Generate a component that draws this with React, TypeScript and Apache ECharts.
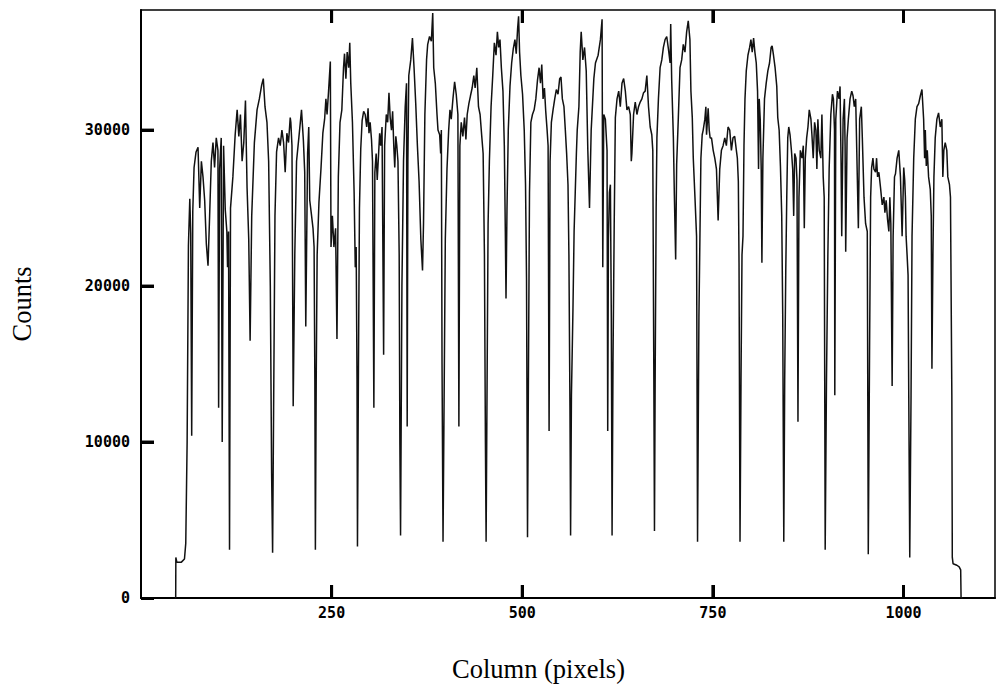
import React, { useEffect, useRef } from 'react';
import * as echarts from 'echarts';

// Axis ranges and tick values
const xMin = 0;
const xMax = 1120;
const yMin = 0;
const yMax = 37700;
const xTickValues = [250, 500, 750, 1000];
const yTickValues = [0, 10000, 20000, 30000];

// Spectrum trace [column, counts], in segments
const segA: [number, number][] = [
  [44, 0], [45.5, 0], [45.7, 2600], [47, 2300], [53, 2300], [57, 2500], [58.7, 3500],
  [60.5, 10000], [62.2, 22600], [64, 25600], [65.2, 23400], [66.5, 10400], [67.9, 24800],
  [69.6, 27600], [72.2, 28600], [74.8, 28900], [77, 25000], [79.2, 28000], [81.3, 27000],
  [83.5, 25500], [85.7, 22700], [87.9, 21300], [90, 24500], [92.2, 28000], [94.4, 29200],
  [96.5, 27600], [98.7, 29500], [100.9, 28700], [101.8, 12200], [103.1, 27500], [105.2, 29500],
  [106.5, 10000], [108.3, 29000], [110.5, 24900], [112.6, 23500], [113.5, 21200], [114.8, 23500],
  [116.1, 3100], [117.4, 25000],
];

const segB: [number, number][] = [
  [120.5, 27000], [123.5, 29700], [126.1, 31300], [128.3, 29600], [130.4, 31000], [132.6, 28000],
  [134.8, 29200], [137, 31900], [139.1, 26300], [141.3, 23000], [143.1, 16500], [145.2, 24500],
  [148.7, 29200], [152.2, 31300], [155.2, 32000], [158.3, 32900], [160.4, 33300], [162.6, 31500],
  [165.2, 30500], [167.4, 28000], [169.6, 20000], [171.3, 8000], [172.6, 2900], [173.9, 12000],
  [175.7, 24500], [177.8, 28600], [180.4, 29500], [182.6, 29000], [184.8, 30000], [187, 29200],
  [189.1, 27300], [191.3, 29800], [193.5, 29200], [195.7, 30800],
];

const segC: [number, number][] = [
  [196.5, 30500], [198, 29000], [199.6, 12300], [201.7, 22000], [204, 28000], [207, 29500],
  [210.5, 31300], [213, 29300], [214.7, 27300], [216.1, 17400], [218.5, 28500], [220, 30200],
  [221.3, 25500], [223.5, 24600], [225.6, 23700], [227, 22500], [228, 14000], [228.7, 3100],
  [229.8, 14000], [231, 22000], [233.4, 25400], [236, 27500], [238.5, 29800], [240.8, 30700],
  [242.5, 32000], [244, 31000], [246, 32500], [248.3, 34400], [249.2, 22500], [251, 24500],
  [253, 22500], [255.2, 23700], [257, 16600], [258.8, 27000], [261, 30500], [263.4, 31300],
  [265.6, 34000], [266.9, 34900], [268.7, 33300], [270.4, 35000], [272.4, 34000], [273.8, 35600],
  [275.1, 33000], [277.3, 30500], [279.5, 26000], [281, 21200], [282.2, 22500], [283.3, 14000],
  [283.9, 3300],
];

const segD: [number, number][] = [
  [285.2, 15000], [286.5, 25000], [288.2, 28800], [290, 30600], [292, 31200], [294, 31000],
  [296, 30200], [297.8, 31400], [299, 29800], [300.5, 30500], [302.3, 29400], [303.6, 28000],
  [305.4, 12200], [306.7, 27300], [308.4, 28500], [309.8, 26800], [311.1, 28000], [313, 29800],
  [314.4, 29000], [316.1, 30200], [318.2, 15600], [319.5, 29000], [321.7, 31000], [323.5, 30500],
  [325.2, 32400], [326.8, 30800], [328.5, 30000], [330, 31200], [331.5, 29000], [332.8, 27600],
  [334.2, 29600], [335.5, 29000], [337, 28000], [338.6, 22000], [339.5, 10000], [340.4, 4000],
  [341.3, 12000], [342.2, 20000], [344.3, 28000], [346.5, 31500], [348.2, 33000], [349.1, 11000],
  [350, 28000], [351.2, 33500], [353.8, 34500], [356, 35900], [358.1, 34000], [360.3, 31700],
  [362.5, 29000], [364.7, 26700], [367, 23000], [369.2, 21000], [370.5, 24000], [372.3, 31000],
  [374.5, 34500], [376, 35500], [378.4, 36000], [380.8, 35700], [382.6, 37500], [383.9, 34000],
  [386, 33000], [388.2, 31000], [389.5, 30000], [391.7, 29700], [393, 28500], [393.9, 30000],
  [394.8, 15000], [396.1, 3600],
];

const segE: [number, number][] = [
  [397.4, 12000], [399.1, 23000], [401.3, 27500], [403.5, 30000], [405.2, 31300], [406.9, 30700],
  [409.1, 32000], [411.3, 33100], [413.4, 32300], [415.6, 31000], [416.9, 11000], [418.2, 29000],
  [420, 30500], [422.1, 29600], [424.3, 30800], [426.1, 29400], [427.8, 31000], [430, 31700],
  [432.1, 32200], [434.3, 32700], [436.5, 33500], [438.2, 32700], [440.4, 34000], [442.6, 31500],
  [444.7, 31000], [446.9, 29600], [448.7, 28500], [450.4, 22000], [451.7, 10000], [452.6, 3600],
  [453.9, 14000], [455.2, 24000], [456.9, 28000], [459.1, 31500], [461.3, 33500], [463.4, 35600],
  [465.6, 34800], [467.4, 36300], [469.1, 35300], [470.8, 35800], [472.6, 34000], [474.7, 32500],
  [476.5, 29000], [477.8, 23500], [478.7, 19200], [480, 25000], [481.7, 30000], [483.9, 32800],
  [486.1, 34300], [488.2, 35200], [490.4, 35800], [492.1, 34900], [493.9, 36500], [495.2, 37300],
  [496.5, 35000], [498.2, 33500], [500.4, 32300], [502.6, 30000], [504.3, 26500], [505.6, 20500],
  [506.9, 3900], [508.2, 15000], [509.5, 26000], [511.3, 30500], [513.4, 31000], [515.6, 31300],
  [517.8, 32000], [520, 33200], [522.1, 34000], [523.9, 33000], [525.6, 34200], [527.3, 32000],
  [529.1, 32700], [530.8, 31200], [532.6, 30000], [533.9, 29000], [535.2, 10700], [536.5, 28000],
  [538.2, 30500], [540.4, 31300], [542.6, 32000], [544.7, 32600], [546.9, 32300], [549.1, 33300],
  [550.8, 33400], [552.6, 32000], [554.7, 31500], [556.5, 30000], [558.2, 28500], [560, 26500],
  [561.2, 22000], [562.6, 12000], [563.4, 4000],
];

const segF: [number, number][] = [
  [564.5, 13000], [565.6, 16000], [566.5, 18500], [568, 23500], [569.5, 26000], [571, 28500],
  [572.1, 30000], [574.3, 31500], [576, 35000], [577.3, 36300], [579.5, 34500], [581.7, 35300],
  [583.9, 33800], [586, 28700], [588.2, 25000], [590.4, 30000], [593.9, 33300], [596, 34300],
  [599.5, 34800], [602.5, 35800], [604.7, 37100], [605.6, 21200], [606.9, 31000], [609, 30700],
  [611.2, 28700], [612.1, 10700], [613, 23000], [614.3, 26000], [615.6, 26500], [616.8, 18000],
  [617.8, 4000], [619, 15000], [620.6, 24000], [622.1, 30800], [624.3, 32000], [626.5, 32500],
  [628.6, 31500], [630.8, 33000], [633, 33300], [635.2, 32500], [637.3, 31300], [639.5, 31500],
  [641.7, 31000], [643, 28000], [643.8, 28500], [646, 31000], [648.2, 31800], [650.4, 31000],
  [652.5, 31500], [654.7, 31800], [656.9, 32000], [659.1, 32400], [661.2, 32500], [663.4, 33500],
  [665.6, 31500], [667.8, 30200], [669.9, 29700], [671.2, 28700], [672.5, 15000], [673.4, 4300],
  [674.3, 14000], [675.6, 25000], [676.6, 29500], [678.6, 32000], [680.8, 34000], [683, 34500],
  [685.1, 35300], [687.3, 35800], [689.5, 36000], [691.7, 35200], [693.9, 34300], [694.7, 36800],
  [696, 33200], [698.2, 29500], [699.5, 25800], [701.2, 21700], [702.5, 27800], [704.7, 30800],
  [706.9, 34000], [709.1, 34500], [711.2, 35500], [713.4, 35000], [715.6, 36300], [717.7, 37000],
  [719.9, 35800], [721.2, 32500], [723, 30800], [724.3, 28200], [726.5, 25700], [728.6, 23200],
  [729.9, 3600], [731.7, 18000], [734.3, 28200], [736, 29700], [737.3, 30000], [739.5, 30700],
  [740.8, 31500], [741.7, 29700], [743, 30700], [743.8, 31400], [745.2, 30000], [746.4, 29500],
  [748.2, 29500], [750.4, 28700], [752.5, 28200], [754.7, 27500], [756.9, 24200], [759, 27500],
];

const segG: [number, number][] = [
  [761.2, 28700], [763.4, 29000], [765.6, 29500], [767.7, 29000], [769.9, 30200], [772.1, 30000],
  [774.3, 28700], [776.4, 29500], [778.6, 29600], [780.8, 28700], [782.1, 28200], [783.4, 26700],
  [784.3, 21500], [785.6, 3600], [786.9, 14000], [788.2, 22000], [789.5, 23200], [790.8, 29000],
  [792.1, 32000], [793.8, 33800], [796, 34800], [798.2, 35300], [799.9, 35800], [801.6, 35000],
  [803.4, 35900], [805.1, 35000], [806.9, 34300], [808.6, 32500], [809.9, 27500], [810.8, 32000],
  [812.1, 30700], [813.4, 27500], [814.3, 21500], [815.6, 28200], [817.7, 32000], [819.9, 33000],
  [822.1, 33800], [824.3, 34300], [826.4, 35300], [827.7, 35400], [829.5, 34800], [831.6, 34000],
  [833.8, 32800], [835.1, 30800], [836.9, 30000], [838.6, 27700], [840.3, 24500], [841.6, 18200],
  [843, 3600], [844.2, 14000], [845.6, 21000], [846.9, 25700], [848.2, 29500], [849.5, 30200],
  [851.2, 29700], [853, 28700], [854.7, 27500], [856, 24500], [857.3, 28500], [859, 28200],
  [860.3, 26800], [861.6, 11300], [862.9, 25700], [864.7, 28700], [866.9, 28200], [868.6, 29000],
  [869.9, 23700], [871.2, 28200], [873, 29500], [874.7, 30200], [876.4, 31300], [878.6, 30700],
  [879.9, 29700], [881.6, 28200], [883.4, 30500], [885.1, 30000], [886.4, 27500], [887.7, 30700],
  [889.5, 28700], [891.6, 28200], [893, 31000], [894.7, 27000], [896, 25700], [897.3, 3100],
  [899, 14000], [900.8, 22000], [902.5, 27500], [904.7, 31000], [906.8, 32300], [908.1, 32000],
  [909.5, 30000], [909.9, 13000], [911.2, 30700], [913.4, 32500], [915.5, 32000], [916.8, 32800],
  [918.1, 28000], [919, 23200], [920.8, 30700], [922.5, 32000], [923.4, 29000], [924.2, 22200],
  [926, 29500], [927.7, 30700], [929.9, 32000], [932.1, 32500], [933.8, 32200], [935.5, 31500],
  [937.3, 32000], [939.5, 26800], [940.8, 23700], [942.5, 30700], [944.7, 31500], [946, 29500],
  [948.2, 25700], [950.3, 24000], [952.5, 23500], [953.8, 2800],
];

const segH: [number, number][] = [
  [955.5, 16000], [956.9, 25700], [958.2, 27600], [959.9, 28200], [961.2, 27500], [963.4, 27300],
  [964.7, 28200], [966, 27000], [967.7, 27300], [969.9, 26300], [972.1, 25200], [974.3, 25700],
  [975.6, 24700], [977.3, 25500], [979, 24300], [980.8, 23500], [982.1, 25700], [983.4, 24000],
  [985.1, 13600], [986.4, 23200], [988.2, 27000], [989.5, 27200], [991.6, 28200], [993.8, 28700],
  [996, 27000], [998.2, 23200], [1000.3, 27600], [1001.6, 26800], [1002.5, 25700], [1003.4, 23200],
  [1004.7, 22000], [1006, 20700], [1006.9, 13000], [1008.2, 2600], [1009.9, 13000], [1011.2, 23200],
  [1013.4, 28200], [1015.5, 30700], [1017.7, 31500], [1019.9, 31700], [1022.1, 32200], [1024.2, 32600],
  [1026.4, 30700], [1027.7, 28200], [1028.6, 30000], [1029.9, 27700], [1031.2, 28700], [1032.9, 27000],
  [1035.1, 26200], [1036.4, 24500], [1037.3, 14700], [1038.6, 22000], [1039.9, 27000], [1041.6, 29500],
  [1043.8, 30700], [1046, 31100], [1048.2, 30200], [1050.3, 30700], [1051.6, 27000], [1052.9, 28700],
  [1054.7, 29200], [1056.8, 28700], [1058.1, 27000], [1060.3, 26500], [1061.6, 25700], [1063.4, 13000],
  [1064, 2600], [1065, 2200], [1070, 2100], [1073, 2000], [1075, 1800], [1075.5, 0], [1078, 0],
];

const spectrum = [...segA, ...segB, ...segC, ...segD, ...segE, ...segF, ...segG, ...segH];

// Tick-mark lengths (about 13 px) expressed in the units of the fixed axes
const xTickLen = 17; // columns
const yTickLen = 830; // counts

const tickFont = {
  color: '#000',
  fontFamily: 'DejaVu Sans Mono',
  fontWeight: 'bold' as const,
  fontSize: 15,
};

const nameFont = {
  color: '#000',
  fontFamily: 'Liberation Serif',
  fontSize: 26.5,
};

// Short inward tick segments along bottom, top and left edges
const tickSegments: any[] = [
  ...xTickValues.map((v) => [{ coord: [v, yMin] }, { coord: [v, yMin + yTickLen] }]),
  ...xTickValues.map((v) => [{ coord: [v, yMax] }, { coord: [v, yMax - yTickLen] }]),
  ...yTickValues
    .filter((v) => v > yMin)
    .map((v) => [{ coord: [xMin, v] }, { coord: [xMin + xTickLen, v] }]),
];

export default function App() {
  const ref = useRef<HTMLDivElement>(null);

  useEffect(() => {
    if (!ref.current) return;
    const chart = echarts.init(ref.current, null, { renderer: 'svg' });
    chart.setOption({
      animation: false,
      grid: {
        left: 136,
        right: 2,
        top: 10,
        bottom: 90,
        containLabel: false,
        show: true,
        borderColor: '#000',
        borderWidth: 1.5,
      },
      xAxis: {
        type: 'value',
        min: xMin,
        max: xMax,
        interval: 250,
        name: 'Column (pixels)',
        nameLocation: 'middle',
        nameGap: 57,
        nameTextStyle: { ...nameFont, padding: [0, 59, 0, 0] },
        axisLine: { show: true, onZero: false, lineStyle: { color: '#000', width: 2 } },
        axisTick: { show: true, inside: true, length: 13, lineStyle: { color: '#000', width: 3 } },
        axisLabel: {
          show: true,
          margin: 7,
          showMinLabel: false,
          showMaxLabel: false,
          formatter: (v: number) => (xTickValues.includes(v) ? String(v) : ''),
          ...tickFont,
        },
        splitLine: { show: false },
      },
      yAxis: {
        type: 'value',
        min: yMin,
        max: yMax,
        interval: 10000,
        name: 'Counts',
        nameLocation: 'middle',
        nameGap: 106,
        nameRotate: 90,
        nameTextStyle: { ...nameFont },
        axisLine: { show: true, onZero: false, lineStyle: { color: '#000', width: 2 } },
        axisTick: { show: true, inside: true, length: 13, lineStyle: { color: '#000', width: 3 } },
        axisLabel: {
          show: true,
          margin: 11,
          showMaxLabel: false,
          formatter: (v: number) => (yTickValues.includes(v) ? String(v) : ''),
          ...tickFont,
        },
        splitLine: { show: false },
      },
      series: [
        {
          type: 'line',
          data: spectrum,
          symbol: 'none',
          showSymbol: false,
          lineStyle: { color: '#111', width: 1.5 },
          markLine: {
            silent: true,
            symbol: 'none',
            label: { show: false },
            lineStyle: { color: '#000', width: 3, type: 'solid' },
            data: tickSegments,
          },
        },
        {
          type: 'custom',
          clip: false,
          data: xTickValues.map((v) => [v, yMin]),
          renderItem: (_params: any, api: any) => {
            const v = api.value(0);
            const b = api.coord([v, yMin]);
            const t = api.coord([v, yMax]);
            return {
              type: 'group',
              children: [
                { type: 'rect', shape: { x: b[0] - 1.5, y: b[1] - 13, width: 3, height: 13 }, style: { fill: '#000' } },
                { type: 'rect', shape: { x: t[0] - 1.5, y: t[1], width: 3, height: 13 }, style: { fill: '#000' } },
              ],
            };
          },
        },
        {
          type: 'custom',
          clip: false,
          data: yTickValues.filter((v) => v > yMin).map((v) => [xMin, v]),
          renderItem: (_params: any, api: any) => {
            const p = api.coord([xMin, api.value(1)]);
            return {
              type: 'rect',
              shape: { x: p[0], y: p[1] - 1.5, width: 13, height: 3 },
              style: { fill: '#000' },
            };
          },
        },
      ],
    });
    return () => chart.dispose();
  }, []);

  return (
    <div
      ref={ref}
      style={{ position: 'fixed', left: 0, top: 0, width: 997, height: 688, background: '#fff' }}
    />
  );
}
